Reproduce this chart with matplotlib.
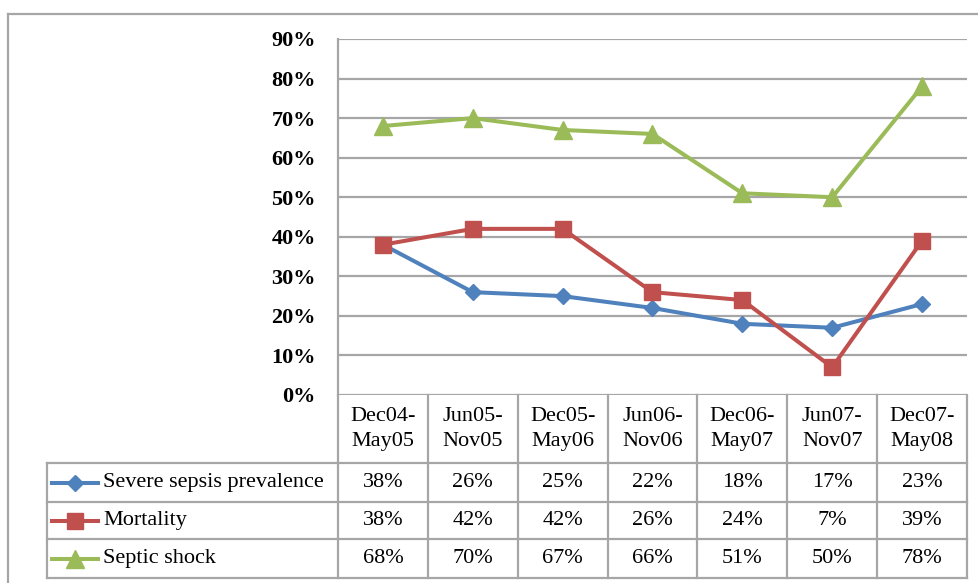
import numpy as np
import matplotlib.pyplot as plt
from matplotlib.lines import Line2D

periods = ["Dec04-\nMay05", "Jun05-\nNov05", "Dec05-\nMay06", "Jun06-\nNov06",
           "Dec06-\nMay07", "Jun07-\nNov07", "Dec07-\nMay08"]
sepsis = [38, 26, 25, 22, 18, 17, 23]
mortality = [38, 42, 42, 26, 24, 7, 39]
shock = [68, 70, 67, 66, 51, 50, 78]
names = ["Severe sepsis prevalence", "Mortality", "Septic shock"]
colors = ["#4F81BD", "#C0504D", "#9BBB59"]
markers = ["D", "s", "^"]
msizes = [8.5, 11, 12.5]

plt.rcParams['font.family'] = ['Liberation Serif', 'DejaVu Serif']
W, H = 979, 583
fig = plt.figure(figsize=(W / 100, H / 100), dpi=100)

# plot area in pixels
L, R, T, B = 338, 967, 39, 395
ax = fig.add_axes([L / W, 1 - B / H, (R - L) / W, (B - T) / H])
grid_c = "#A6A6A6"

x = np.arange(len(periods))
series = [sepsis, mortality, shock]
for vals, c, m, ms in zip(series, colors, markers, msizes):
    ax.plot(x, vals, color=c, lw=2.9, marker=m, ms=ms, mec=c, mfc=c, zorder=3)

ax.set_xlim(-0.5, 6.5)
ax.set_ylim(0, 90)
ax.set_yticks(range(0, 91, 10))
ax.set_yticklabels([f"{v}%" for v in range(0, 91, 10)], fontsize=16, fontweight='bold')
ax.tick_params(axis='y', length=0, pad=16)
ax.set_xticks([])
ax.grid(axis='y', color=grid_c, lw=1.6)
ax.set_axisbelow(True)
for s in ["top", "right", "bottom"]:
    ax.spines[s].set_visible(False)
ax.spines["left"].set_color(grid_c)
ax.spines["left"].set_linewidth(1.6)

# data table below the plot (x in data units, y in axes fraction)
tr = ax.get_xaxis_transform()
ph = B - T
row_px = [395, 463, 502, 539, 578]
row_y = [-(p - B) / ph for p in row_px]
x_left = (47 - L) / ((R - L) / 7) - 0.5

def hline(x0, x1, y):
    ax.add_line(Line2D([x0, x1], [y, y], transform=tr, color=grid_c, lw=1.6, clip_on=False))

def vline(xv, y0, y1):
    ax.add_line(Line2D([xv, xv], [y0, y1], transform=tr, color=grid_c, lw=1.6, clip_on=False))

for yy in row_y[1:]:
    hline(x_left, 6.5, yy)
for k in range(8):
    vline(k - 0.5, row_y[0], row_y[-1])
vline(x_left, row_y[1], row_y[-1])

for i, p in enumerate(periods):
    ax.text(i, (row_y[0] + row_y[1]) / 2, p, transform=tr, ha='center', va='center',
            fontsize=16, linespacing=1.38, clip_on=False)

for r, (vals, nm, c, m, ms) in enumerate(zip(series, names, colors, markers, msizes)):
    yc = (row_y[r + 1] + row_y[r + 2]) / 2
    for i, v in enumerate(vals):
        ax.text(i, yc, f"{v}%", transform=tr, ha='center', va='center', fontsize=16, clip_on=False)
    lx0 = x_left + 5 / 89.86
    lx1 = x_left + 51 / 89.86
    ax.add_line(Line2D([lx0, lx1], [yc, yc], transform=tr, color=c, lw=2.9, clip_on=False))
    ax.add_line(Line2D([(lx0 + lx1) / 2], [yc], transform=tr, color=c, marker=m, ms=ms,
                       mec=c, mfc=c, clip_on=False))
    ax.text(x_left + 56 / 89.86, yc, nm, transform=tr, ha='left', va='center', fontsize=16,
            clip_on=False)

# outer chart frame
fig.add_artist(Line2D([8 / W, 1], [1 - 14 / H, 1 - 14 / H], color=grid_c, lw=1.6))
fig.add_artist(Line2D([8 / W, 8 / W], [1 - 14 / H, 0], color=grid_c, lw=1.6))

fig.savefig("out.png", dpi=100)
